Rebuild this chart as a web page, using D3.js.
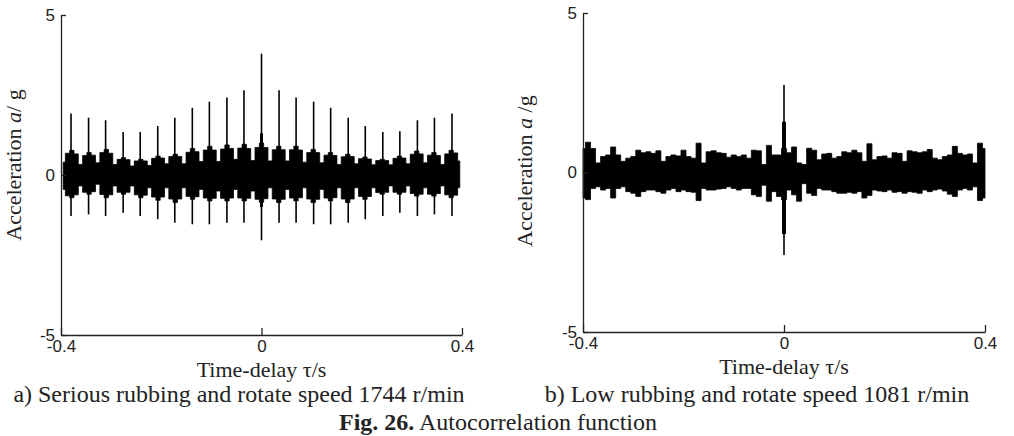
<!DOCTYPE html>
<html>
<head>
<meta charset="utf-8">
<script src="https://cdn.jsdelivr.net/npm/d3@7"></script>
<style>
  body { margin: 0; background: #fff; }
  .tick text { font-family: "Liberation Sans", Arial, sans-serif; font-size: 17px; fill: #222; }
  .serif { font-family: "Liberation Serif", "Times New Roman", serif; fill: #222; }
</style>
</head>
<body>
<svg id="chart" width="1014" height="436"></svg>
<script>
// ---- panel a: serious rubbing, 1744 r/min ----
// band envelope, one value every tauStepA seconds from -46*step to +46*step
const tauStepA = 0.0086;
const upperA = [
  0.40, 0.68, 0.77, 0.66, 0.33, 0.61, 0.70, 0.62, 0.38, 0.70, 0.80, 0.68, 0.33, 0.49, 0.54, 0.48,
  0.28, 0.44, 0.49, 0.44, 0.30, 0.52, 0.59, 0.53, 0.35, 0.58, 0.65, 0.58, 0.35, 0.71, 0.83, 0.73,
  0.42, 0.78, 0.90, 0.78, 0.42, 0.81, 0.94, 0.83, 0.49, 0.84, 0.96, 0.83, 0.45, 0.86, 1.00, 0.86,
  0.44, 0.79, 0.90, 0.79, 0.44, 0.79, 0.90, 0.78, 0.40, 0.70, 0.80, 0.70, 0.38, 0.62, 0.70, 0.61,
  0.33, 0.57, 0.65, 0.58, 0.35, 0.51, 0.56, 0.50, 0.32, 0.45, 0.49, 0.45, 0.32, 0.52, 0.59, 0.53,
  0.35, 0.65, 0.75, 0.66, 0.38, 0.62, 0.70, 0.61, 0.33, 0.66, 0.77, 0.69, 0.44
];
const lowerA = [
  -0.45, -0.65, -0.71, -0.62, -0.34, -0.54, -0.60, -0.52, -0.29, -0.61, -0.71, -0.62, -0.34, -0.54, -0.60, -0.54,
  -0.34, -0.62, -0.71, -0.63, -0.40, -0.69, -0.79, -0.69, -0.40, -0.75, -0.86, -0.75, -0.40, -0.67, -0.76, -0.68,
  -0.45, -0.72, -0.81, -0.73, -0.50, -0.73, -0.81, -0.72, -0.45, -0.72, -0.81, -0.73, -0.50, -0.76, -0.85, -0.74,
  -0.40, -0.75, -0.86, -0.76, -0.45, -0.72, -0.81, -0.71, -0.40, -0.75, -0.86, -0.76, -0.45, -0.72, -0.81, -0.71,
  -0.40, -0.75, -0.86, -0.75, -0.40, -0.67, -0.76, -0.67, -0.40, -0.55, -0.60, -0.54, -0.34, -0.54, -0.60, -0.54,
  -0.34, -0.58, -0.66, -0.60, -0.40, -0.60, -0.66, -0.58, -0.34, -0.62, -0.71, -0.63, -0.40
];
// impulses once per revolution
const spikeTauA = [
  -0.380, -0.345, -0.311, -0.276, -0.242, -0.207, -0.173, -0.138, -0.104, -0.069, -0.035, 0,
  0.035, 0.069, 0.104, 0.138, 0.173, 0.207, 0.242, 0.276, 0.311, 0.345, 0.380
];
const spikeTopA = [
  1.92, 1.79, 1.71, 1.34, 1.34, 1.53, 1.79, 2.10, 2.29, 2.42, 2.65, 3.79,
  2.65, 2.42, 2.29, 2.10, 1.79, 1.53, 1.34, 1.37, 1.71, 1.79, 1.92
];
const spikeBotA = [
  -1.28, -1.23, -1.28, -1.18, -1.28, -1.38, -1.49, -1.54, -1.54, -1.49, -1.49, -2.04,
  -1.49, -1.49, -1.54, -1.54, -1.49, -1.38, -1.28, -1.18, -1.28, -1.23, -1.28
];
const coreA = [-1.0, 1.3];

// ---- panel b: low rubbing, 1081 r/min ----
const tauStepB = 0.01;
const upperB = [
  0.75, 0.95, 0.75, 0.30, 0.50, 0.55, 0.80, 0.55, 0.35, 0.45, 0.50, 0.70, 0.62, 0.65, 0.60, 0.68,
  0.35, 0.50, 0.55, 0.52, 0.70, 0.50, 0.45, 0.92, 0.30, 0.65, 0.68, 0.62, 0.60, 0.48, 0.55, 0.50,
  0.55, 0.45, 0.70, 0.68, 0.25, 0.85, 0.55, 0.55, 0.75, 0.62, 0.80, 0.30, 0.25, 0.76, 0.70, 0.40,
  0.58, 0.60, 0.45, 0.50, 0.65, 0.62, 0.70, 0.62, 0.35, 0.90, 0.40, 0.50, 0.52, 0.45, 0.62, 0.60,
  0.35, 0.68, 0.65, 0.62, 0.65, 0.72, 0.45, 0.40, 0.50, 0.55, 0.82, 0.60, 0.55, 0.58, 0.30, 0.92,
  0.75
];
const lowerB = [
  -0.80, -0.85, -0.50, -0.45, -0.55, -0.50, -0.80, -0.50, -0.45, -0.60, -0.65, -0.75, -0.60, -0.55, -0.55, -0.60,
  -0.65, -0.55, -0.50, -0.60, -0.55, -0.60, -0.62, -0.88, -0.50, -0.55, -0.55, -0.52, -0.50, -0.45, -0.50, -0.55,
  -0.50, -0.50, -0.70, -0.75, -0.40, -0.90, -0.60, -0.75, -0.85, -0.55, -0.70, -0.90, -0.35, -0.65, -0.72, -0.50,
  -0.55, -0.55, -0.60, -0.65, -0.65, -0.62, -0.65, -0.60, -0.80, -0.72, -0.55, -0.58, -0.60, -0.55, -0.62, -0.60,
  -0.65, -0.60, -0.62, -0.65, -0.55, -0.60, -0.55, -0.52, -0.58, -0.68, -0.75, -0.55, -0.50, -0.55, -0.45, -0.88,
  -0.80
];
const spikeB = [-2.59, 2.74];
const coreB = [-1.93, 1.59];

const xTicks = [-0.4, 0, 0.4];
const yTicks = [-5, 0, 5];

const svg = d3.select('#chart');
const fmt = d => (d === 0 ? '0' : String(d));   // plain hyphen minus, as in the figure

function drawPanel(p) {
  const x = d3.scaleLinear().domain([-0.4, 0.4]).range([p.left, p.right]);
  const y = d3.scaleLinear().domain([-5, 5]).range([p.bottom, p.top]);

  const band = p.upper.map((u, i) => ({ t: p.t0 + i * p.step, hi: u, lo: p.lower[i] }));

  const area = d3.area()
    .x(d => x(d.t))
    .y0(d => y(d.lo))
    .y1(d => y(d.hi))
    .curve(d3.curveStep);

  svg.append('path')
    .datum(band)
    .attr('fill', '#000')
    .attr('stroke', '#000')
    .attr('stroke-width', 0.8)
    .attr('d', area);

  // spikes
  svg.append('g').selectAll('line')
    .data(p.spikes)
    .enter().append('line')
    .attr('x1', d => x(d.t)).attr('x2', d => x(d.t))
    .attr('y1', d => y(d.lo)).attr('y2', d => y(d.hi))
    .attr('stroke', '#000')
    .attr('stroke-width', 1.6);

  // thick centre part
  svg.append('line')
    .attr('x1', x(0)).attr('x2', x(0))
    .attr('y1', y(p.core[0])).attr('y2', y(p.core[1]))
    .attr('stroke', '#000')
    .attr('stroke-width', p.coreWidth);

  const gx = svg.append('g')
    .attr('transform', 'translate(0,' + p.bottom + ')')
    .call(d3.axisBottom(x).tickValues(xTicks).tickSize(-7).tickSizeOuter(0).tickPadding(5).tickFormat(fmt));

  const gy = svg.append('g')
    .attr('transform', 'translate(' + p.left + ',0)')
    .call(d3.axisLeft(y).tickValues(yTicks).tickSize(-5).tickSizeOuter(0).tickPadding(6).tickFormat(fmt));

  [gx, gy].forEach(g => {
    g.select('.domain').attr('stroke', '#222').attr('stroke-width', 1.3);
    g.selectAll('.tick line').attr('stroke', '#222').attr('stroke-width', 1.3);
  });

  svg.append('text')
    .attr('class', 'serif')
    .attr('x', x(0))
    .attr('y', p.bottom + 42)
    .attr('text-anchor', 'middle')
    .attr('font-size', 22)
    .text('Time-delay τ/s');

  const yl = svg.append('text')
    .attr('class', 'serif')
    .attr('transform', 'translate(' + p.ylabX + ',' + p.ylabY + ') rotate(-90)')
    .attr('text-anchor', 'middle')
    .attr('font-size', 22);
  yl.append('tspan').text('Acceleration ');
  yl.append('tspan').attr('font-style', 'italic').text('a');
  yl.append('tspan').text(p.unit);

  svg.append('text')
    .attr('class', 'serif')
    .attr('x', p.capX)
    .attr('y', 402)
    .attr('text-anchor', 'middle')
    .attr('font-size', 24)
    .text(p.caption);
}

drawPanel({
  left: 61, right: 462, top: 15, bottom: 335,
  t0: -46 * tauStepA, step: tauStepA, upper: upperA, lower: lowerA,
  spikes: spikeTauA.map((t, i) => ({ t: t, hi: spikeTopA[i], lo: spikeBotA[i] })),
  core: coreA, coreWidth: 3,
  ylabX: 21, ylabY: 165, unit: '/ g',
  capX: 239, caption: 'a) Serious rubbing and rotate speed 1744 r/min'
});

drawPanel({
  left: 583, right: 985, top: 13, bottom: 332,
  t0: -0.4, step: tauStepB, upper: upperB, lower: lowerB,
  spikes: [{ t: 0, hi: spikeB[1], lo: spikeB[0] }],
  core: coreB, coreWidth: 4,
  ylabX: 532, ylabY: 171, unit: ' /g',
  capX: 757, caption: 'b) Low rubbing and rotate speed 1081 r/min'
});

const fig = svg.append('text')
  .attr('class', 'serif')
  .attr('x', 498)
  .attr('y', 430)
  .attr('text-anchor', 'middle')
  .attr('font-size', 24);
fig.append('tspan').attr('font-weight', 'bold').text('Fig. 26.');
fig.append('tspan').text(' Autocorrelation function');
</script>
</body>
</html>
